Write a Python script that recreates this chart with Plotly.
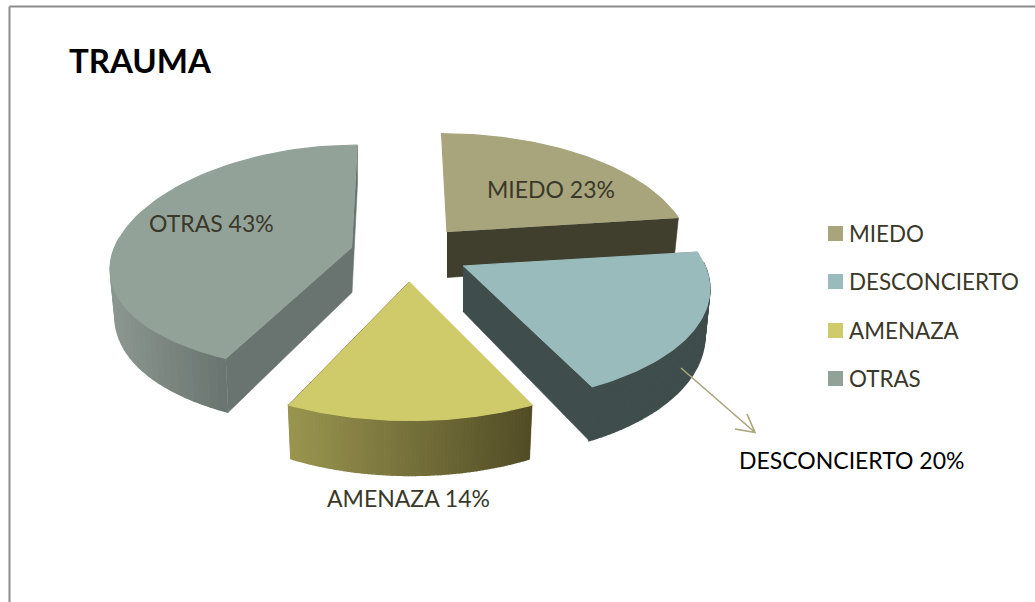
import numpy as np
import plotly.graph_objects as go

# --- data ---
categories = ["MIEDO", "DESCONCIERTO", "AMENAZA", "OTRAS"]
values = [23, 20, 14, 43]
title_text = "TRAUMA"

# --- style ---
W, H = 1035, 602
FONT = "Lato, Carlito, Calibri, sans-serif"
TEXT = "#3a3829"
top_colors = ["#A8A57C", "#9ABBBC", "#CFCB6A", "#93A299"]
radial_colors = ["#403F2E", "#3F4E4C", "#6B5F2A", "#697470"]
rim_stops = [("#403F2E", "#403F2E"), ("#3F4E4C", "#3F4E4C"),
             ("#99954F", "#524D26"), ("#8B9790", "#697470")]
apex = [(447, 232), (463, 266), (409, 282), (352, 247)]
radius_x = [239, 242, 242, 237]
radius_y = [115, 113, 115, 112]
persp_y = [0.17, 0.17, 0.17, 0.10]
shear = [0.8, 0.6, 0.8, 0.8]
K, DEPTH, VX, SHRINK = 0.17, 45.5, 400, 0.98
draw_order = [3, 0, 2, 1]
label_pos = [(550.5, 189, "center"), (737, 460, "left"), (408.5, 498, "center"), (211, 223, "center")]
legend_y = [233, 281, 330, 378]


def hex_rgb(h):
    return np.array([int(h[i:i + 2], 16) for i in (1, 3, 5)], float)


def mix(a, b, u):
    c = hex_rgb(a) * (1 - u) + hex_rgb(b) * u
    return "rgb(%d,%d,%d)" % tuple(c.round())


def project(t, i):
    """Perspective view of a point at angle t (clockwise from 12 o'clock) on slice i's rim."""
    cx, cy = apex[i]
    f = 1 / (1 + K * np.cos(t))
    fy = 1 / (1 + persp_y[i] * np.cos(t))
    x = cx + radius_x[i] * np.sin(t) * f + shear[i] * (cx - VX) * (f - 1)
    y = cy - radius_y[i] * np.cos(t) * fy
    return x, y, f


def lower(x, y, f, i):
    return apex[i][0] + (x - apex[i][0]) * SHRINK, y + DEPTH * f


def poly(fig, xs, ys, colour, width=0.6):
    fig.add_trace(go.Scatter(x=list(xs), y=list(ys), mode="lines", fill="toself", fillcolor=colour,
                             line=dict(color=colour, width=width), hoverinfo="skip", showlegend=False))


fig = go.Figure()

fractions = np.array(values, float) / sum(values)
edges = np.concatenate([[0], np.cumsum(fractions)]) * 2 * np.pi

for i in draw_order:
    c = apex[i]
    t = np.linspace(edges[i], edges[i + 1], 70)
    x, y, f = project(t, i)
    bx, by = lower(x, y, f, i)
    cbx, cby = c[0], c[1] + DEPTH
    # flat radial walls
    for j in (0, -1):
        if np.cos(t[j]) < 0.9 or i == 3:
            poly(fig, [c[0], x[j], bx[j], cbx], [c[1], y[j], by[j], cby], radial_colors[i])
    # curved outer wall (front part only), shaded left to right
    x0, x1 = x.min(), x.max()
    if i == 3:
        x1 = x[0]
    for j in range(len(t) - 1):
        if np.cos(t[j]) > 0.05:
            continue
        u = np.clip(((x[j] + x[j + 1]) / 2 - x0) / (x1 - x0), 0, 1)
        poly(fig, [x[j], x[j + 1], bx[j + 1], bx[j]], [y[j], y[j + 1], by[j + 1], by[j]],
             mix(rim_stops[i][0], rim_stops[i][1], u), width=1.6)
    # top face
    poly(fig, [c[0], *x], [c[1], *y], top_colors[i], width=1.2)

# legend
fig.add_trace(go.Scatter(x=[835.5] * 4, y=[v + 0.5 for v in legend_y], mode="markers", hoverinfo="skip",
                         showlegend=False,
                         marker=dict(symbol="square", size=15, color=top_colors, line=dict(width=0))))

annotations = [dict(x=67, y=60, text="<b>%s</b>" % title_text, xanchor="left", font=dict(size=33, color="#000"))]
for n, (cat, val) in enumerate(zip(categories, values)):
    px, py, anchor = label_pos[n]
    annotations.append(dict(x=px, y=py, text="%s %d%%" % (cat, val), xanchor=anchor,
                            font=dict(size=23, color="#000" if n == 1 else TEXT)))
    annotations.append(dict(x=847, y=legend_y[n], text=cat, xanchor="left", font=dict(size=22.4, color=TEXT)))
for a in annotations:
    a.update(xref="x", yref="y", yanchor="middle", showarrow=False)

rule = dict(color="#8c8c8c", width=2)
shapes = [
    dict(type="line", x0=9.5, x1=W, y0=6.5, y1=6.5, line=rule),
    dict(type="line", x0=9.5, x1=9.5, y0=6.5, y1=H, line=rule),
    dict(type="path", path="M681,368 L755,432.5 M747,414 L755,432.5 L735,429",
         line=dict(color="#A8A57C", width=1.6)),
]

fig.update_layout(
    width=W, height=H, margin=dict(l=0, r=0, t=0, b=0), showlegend=False,
    paper_bgcolor="white", plot_bgcolor="white", font=dict(family=FONT),
    xaxis=dict(range=[0, W], visible=False, fixedrange=True),
    yaxis=dict(range=[H, 0], visible=False, fixedrange=True),
    annotations=annotations, shapes=shapes,
)
fig.write_html("out.html", config=dict(displayModeBar=False),
               post_script="document.body.style.margin='0';document.body.style.overflow='hidden';")
